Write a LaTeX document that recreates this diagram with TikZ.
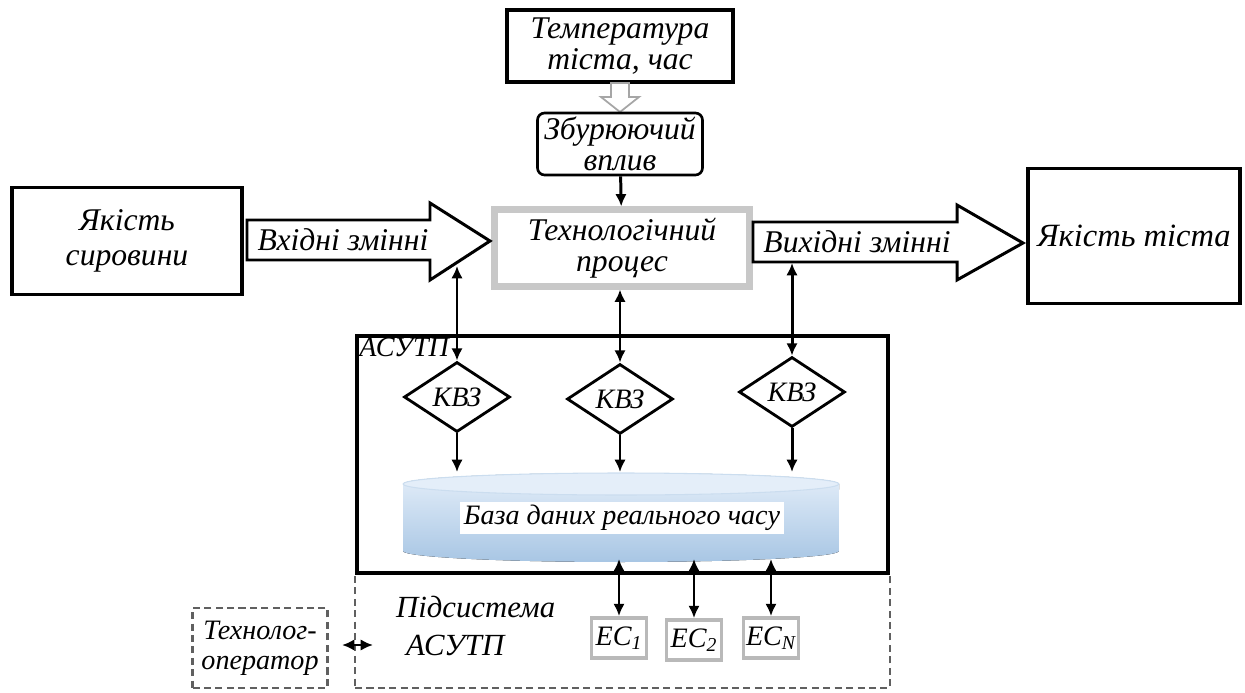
\documentclass[tikz,border=0pt]{standalone}
\usepackage{fontspec}
\setmainfont{Liberation Serif}
\usetikzlibrary{arrows.meta,shapes.geometric}
\definecolor{dblight}{RGB}{228,238,249}
\definecolor{dbblue}{RGB}{168,198,228}
\definecolor{procgray}{RGB}{200,200,200}

\begin{document}
\begin{tikzpicture}[x=0.02cm, y=-0.02cm,
	every node/.style={font=\itshape\fontsize{18}{18}\selectfont, align=center, inner sep=1pt},
	box/.style={rectangle, draw=black, line width=1.8pt},
	kvz/.style={diamond, draw=black, line width=1.6pt, minimum width=2.12cm, minimum height=1.4cm, inner sep=0pt, font=\itshape\fontsize{16}{18}\selectfont},
	ecbox/.style={rectangle, draw=gray!55, line width=2.2pt, minimum width=1.1cm, minimum height=0.8cm, inner sep=0pt, font=\itshape\fontsize{16}{18}\selectfont},
	dashbox/.style={rectangle, draw=gray!75!black, dash pattern=on 4pt off 2.5pt, line width=1.3pt},
	bigarrow/.style={draw=black, line width=1.7pt, fill=white, line join=miter},
	link/.style={draw=black, line width=1.7pt, {Latex[length=7pt,width=6.5pt]}-{Latex[length=7pt,width=6.5pt]}},
	feed/.style={draw=black, line width=1.7pt, -{Latex[length=7pt,width=6.5pt]}}]
	\useasboundingbox (0,0) rectangle (1245,693);
	
	\node[box, minimum width=4.52cm, minimum height=1.44cm] (temp) at (620,46) {Температура\\тіста, час};
	\draw[gray!70, line width=1pt, fill=white] (611,83) -- (629,83) -- (629,97) -- (639,97) -- (620,112) -- (601,97) -- (611,97) -- cycle;
	\node[box, rounded corners=4pt, line width=1.5pt, minimum width=3.3cm, minimum height=1.24cm] (zbur) at (620,144) {Збурюючий\\вплив};
	\node[rectangle, draw=procgray, line width=3.5pt, minimum width=5.1cm, minimum height=1.54cm] (proc) at (622,248) {Технологічний\\процес};
	\node[box, minimum width=4.6cm, minimum height=2.14cm, font=\itshape\fontsize{18}{20}\selectfont] (syr) at (127,241) {Якість\\сировини};
	\node[box, minimum width=4.24cm, minimum height=2.7cm, font=\itshape\fontsize{18.5}{20}\selectfont] (tista) at (1134,236) {Якість тіста};
	
	\draw[bigarrow] (247,220) -- (430,220) -- (430,203) -- (490,241) -- (430,280) -- (430,260) -- (247,260) -- cycle;
	\node (vhid) at (343,240) {Вхідні змінні};
	\draw[bigarrow] (753,222) -- (957,222) -- (957,205) -- (1023,243) -- (957,280) -- (957,262) -- (753,262) -- cycle;
	\node (vyhid) at (857,242) {Вихідні змінні};
	
	\node[dashbox, minimum width=10.7cm, minimum height=2.3cm] (sub) at (622.5,630.5) {};
	\node[rectangle, draw=black, line width=1.8pt, minimum width=10.62cm, minimum height=4.74cm] (asutp) at (622.5,454.5) {};
	\node[anchor=north west, inner sep=2pt, font=\itshape\fontsize{16}{18}\selectfont] (asutpname) at (asutp.north west) {АСУТП};
	
	% baza danykh
	\fill[top color=dblight, bottom color=dbblue] (403,484) -- (403,551) arc[start angle=180, end angle=360, x radius=4.36cm, y radius=0.22cm] -- (839,484) arc[start angle=0, end angle=180, x radius=4.36cm, y radius=0.22cm] -- cycle;
	\draw[dbblue!60, fill=dblight, line width=0.6pt] (621,484) ellipse [x radius=4.36cm, y radius=0.22cm];
	\node[fill=white, inner sep=2pt, font=\itshape\fontsize{16}{18}\selectfont] (db) at (622,518) {База даних реального часу};
	\coordinate (dbtop) at (620,472);
	\coordinate (dbbot) at (620,559);
	
	\node[kvz] (k1) at (457,397) {КВЗ};
	\node[kvz] (k2) at (620,399) {КВЗ};
	\node[kvz] (k3) at (792,392) {КВЗ};
	
	\coordinate (inlow) at (457,266);
	\coordinate (outlow) at (792,263);
	
	\path (zbur) edge[feed] (proc);
	\path (inlow) edge[link] (k1.north);
	\path (k2.north |- proc.south) edge[link] (k2.north);
	\path (outlow) edge[link] (k3.north);
	\path (k1.south) edge[feed] (k1.south |- dbtop);
	\path (k2.south) edge[feed] (k2.south |- dbtop);
	\path (k3.south) edge[feed] (k3.south |- dbtop);
	
	\node[ecbox] (ec1) at (619,638) {ЕС\textsubscript{1}};
	\node[ecbox] (ec2) at (694,640) {ЕС\textsubscript{2}};
	\node[ecbox] (ecn) at (771,638) {ЕС\textsubscript{N}};
	\path (ec1.north |- dbbot) edge[link] (ec1.north);
	\path (ec2.north |- dbbot) edge[link] (ec2.north);
	\path (ecn.north |- dbbot) edge[link] (ecn.north);
	
	\node[anchor=west, align=left, font=\itshape\fontsize{17.5}{21.5}\selectfont] (subname) at (394,626) {Підсистема\\\hspace*{0.2cm}АСУТП};
	\node[dashbox, minimum width=2.7cm, minimum height=1.6cm, font=\itshape\fontsize{16}{17}\selectfont] (oper) at (260,648) {Технолог-\\оператор};
	\coordinate (opout) at (342,645);
	\coordinate (subin) at (373,645);
	\path (opout) edge[link] (subin);
\end{tikzpicture}
\end{document}
